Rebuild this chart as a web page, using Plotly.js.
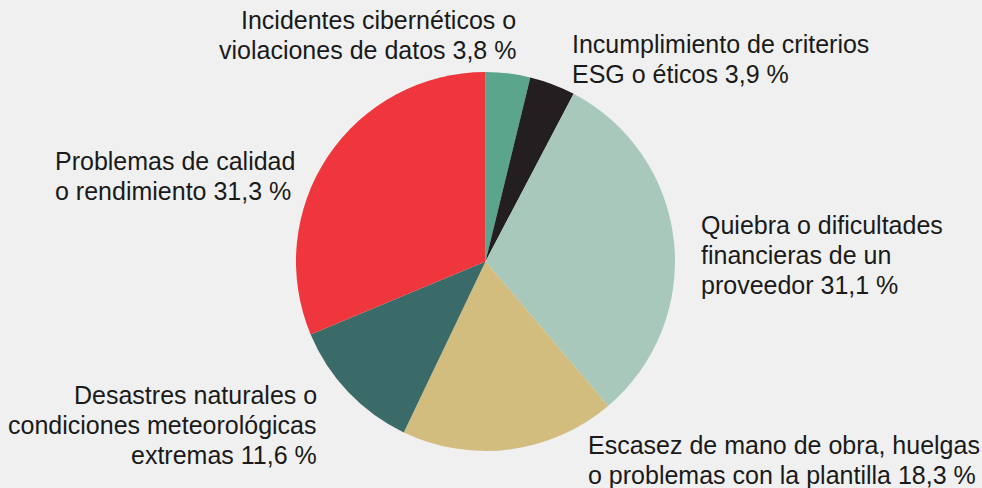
<!DOCTYPE html>
<html>
<head>
<meta charset="utf-8">
<script src="https://cdn.plot.ly/plotly-3.0.1.min.js"></script>
<style>html,body{margin:0;padding:0;background:#f0f0f0;}#chart{width:982px;height:488px;}</style>
</head>
<body>
<div id="chart"></div>
<script>
const categories = [
  "Incidentes cibernéticos o|violaciones de datos",
  "Incumplimiento de criterios|ESG o éticos",
  "Quiebra o dificultades|financieras de un|proveedor",
  "Escasez de mano de obra, huelgas|o problemas con la plantilla",
  "Desastres naturales o|condiciones meteorológicas|extremas",
  "Problemas de calidad|o rendimiento"
];
const values = [3.8, 3.9, 31.1, 18.3, 11.6, 31.3];
const colors = ["#5ba58c", "#231f20", "#a8c8bb", "#d3bd7e", "#3a6b68", "#ee363c"];

// label placement in pixels: anchor x, first baseline y, alignment
const labelPos = [
  {x: 517, y: 28, anchor: "right"},
  {x: 571, y: 52, anchor: "left"},
  {x: 700, y: 233, anchor: "left"},
  {x: 587, y: 453, anchor: "left"},
  {x: 318, y: 403, anchor: "right"},
  {x: 54, y: 169, anchor: "left"}
];
const W = 982, H = 488, LINE = 30, FS = 25;

const fmt = v => v.toFixed(1).replace(".", ",") + " %";

const annotations = [];
categories.forEach((c, i) => {
  const lines = c.split("|");
  lines[lines.length - 1] += " " + fmt(values[i]);
  lines.forEach((ln, j) => {
    const base = labelPos[i].y + j * LINE;
    annotations.push({
      text: ln,
      xref: "paper", yref: "paper",
      x: labelPos[i].x / W, y: 1 - (base - 8) / H,
      xanchor: labelPos[i].anchor, yanchor: "middle",
      align: labelPos[i].anchor,
      showarrow: false, borderpad: 0,
      font: {family: "Liberation Sans, Arial, sans-serif", size: FS, color: "#1a1a1a"}
    });
  });
});

Plotly.newPlot("chart", [{
  type: "pie",
  labels: categories,
  values: values,
  marker: {colors: colors, line: {width: 0}},
  sort: false,
  direction: "clockwise",
  rotation: 0,
  textinfo: "none",
  hoverinfo: "label+value",
  domain: {x: [296/W, 675/W], y: [(H - 452)/H, (H - 71)/H]}
}], {
  width: W, height: H,
  margin: {l: 0, r: 0, t: 0, b: 0},
  paper_bgcolor: "#f0f0f0",
  plot_bgcolor: "#f0f0f0",
  showlegend: false,
  annotations: annotations
}, {displayModeBar: false, staticPlot: true});
</script>
</body>
</html>
